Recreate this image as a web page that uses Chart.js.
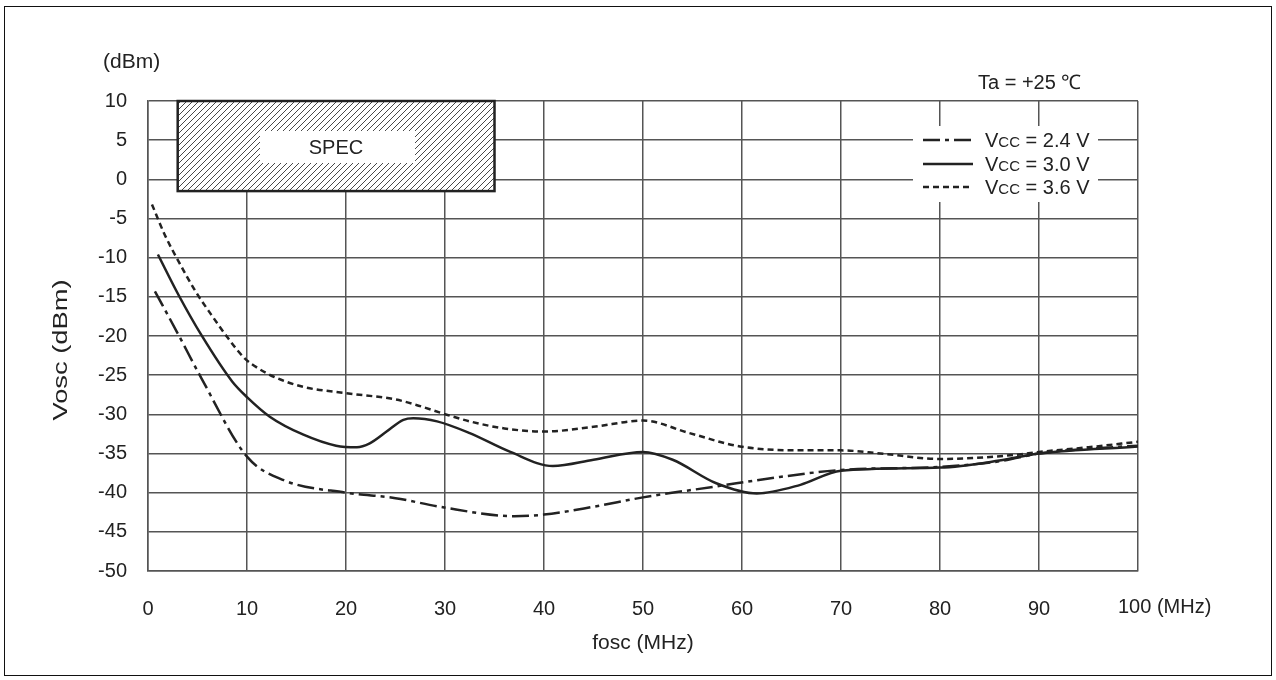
<!DOCTYPE html>
<html>
<head>
<meta charset="utf-8">
<script src="https://cdn.jsdelivr.net/npm/chart.js@4"></script>
<style>
html,body{margin:0;padding:0;background:#fff;}
#wrap{position:relative;width:1276px;height:680px;}
#frame{position:absolute;left:4px;top:6px;width:1266px;height:668px;border:1px solid #111;pointer-events:none;}
canvas{position:absolute;left:0;top:0;}
</style>
</head>
<body>
<div id="wrap">
<canvas id="osc" width="1276" height="680"></canvas>
<div id="frame"></div>
</div>
<script>

/* DATA */

const xTicks=[0,10,20,30,40,50,60,70,80,90,100];
const yTicks=[10,5,0,-5,-10,-15,-20,-25,-30,-35,-40,-45,-50];

const vccLabels=["2.4","3.0","3.6"];

const freq24=[0.7,3.1,5.4,10,13.7,20,25,29.5,37,40,45,50,57.4,63.8,70,80,86,90,95,100];
const vosc24=[-14.3,-19.9,-25.4,-35.4,-38.4,-40.0,-40.7,-41.8,-43.0,-42.8,-41.8,-40.6,-39.2,-38.0,-37.1,-36.7,-36.0,-35.0,-34.4,-34.0];

const freq30=[1,3.1,5.4,8.5,10,12.3,15.7,19,21.1,22.4,24.1,25.8,26.8,29.2,32.5,36.6,40.9,45,50,53,57.4,61.5,65.9,70,80,86,90,100];
const vosc30=[-9.6,-14.8,-19.9,-25.8,-27.8,-30.3,-32.6,-34.0,-34.2,-33.7,-32.2,-30.7,-30.5,-30.9,-32.4,-34.8,-36.6,-35.8,-34.8,-35.8,-38.8,-40.1,-39.0,-37.2,-36.8,-35.9,-35.0,-34.1];

const freq36=[0.4,1.7,3.1,4.8,6.4,8.1,9.8,11.1,12.7,15.7,20,25,27.1,29.8,32.5,36,40,45,50,54.7,59.8,65.9,70,74,80,87.4,90,95,100];
const vosc36=[-3.2,-7.1,-10.5,-14.3,-17.3,-20.3,-22.9,-24.1,-25.2,-26.5,-27.3,-28.1,-28.8,-29.9,-30.9,-31.8,-32.2,-31.6,-30.8,-32.4,-34.1,-34.6,-34.6,-35.0,-35.7,-35.2,-34.8,-34.2,-33.5];

const specFreq=[3,35];
const specLevel=[-1.5,10];


/* HELPERS */

const FONT="'Liberation Sans', Arial, sans-serif";
const INK="#222";
const GRID="#555";

const pts=(xs,ys)=>xs.map((x,i)=>({x:x,y:ys[i]}));

const hatch=(()=>{
const c=document.createElement("canvas");
c.width=6;c.height=6;
const g=c.getContext("2d");
g.strokeStyle="#333";
g.lineWidth=0.9;
g.beginPath();
g.moveTo(0,6);g.lineTo(6,0);
g.moveTo(-3,3);g.lineTo(3,-3);
g.moveTo(3,9);g.lineTo(9,3);
g.stroke();
return c;
})();


/* EXTRA DRAWING */

const specBox={
id:"specBox",
beforeDatasetsDraw(chart){
const ctx=chart.ctx;
const xs=chart.scales.x,ys=chart.scales.y;
const l=xs.getPixelForValue(specFreq[0]),r=xs.getPixelForValue(specFreq[1]);
const t=ys.getPixelForValue(specLevel[1]),b=ys.getPixelForValue(specLevel[0]);
ctx.save();
ctx.fillStyle="#fff";
ctx.fillRect(l,t,r-l,b-t);
ctx.fillStyle=ctx.createPattern(hatch,"repeat");
ctx.fillRect(l,t,r-l,b-t);
ctx.fillStyle="#fff";
ctx.fillRect(260,131,155,32);
ctx.strokeStyle=INK;
ctx.lineWidth=2.5;
ctx.strokeRect(l,t,r-l,b-t);
ctx.fillStyle=INK;
ctx.font="20px "+FONT;
ctx.textAlign="center";
ctx.textBaseline="middle";
ctx.fillText("SPEC",336,148);
ctx.restore();
}
};

const notes={
id:"notes",
afterDatasetsDraw(chart){
const ctx=chart.ctx;
const xs=chart.scales.x;
ctx.save();

/* legend */
ctx.fillStyle="#fff";
ctx.fillRect(913,126,185,76);
const rows=[140,164,187];
chart.data.datasets.forEach((ds,i)=>{
const y=rows[i];
ctx.strokeStyle=ds.borderColor;
ctx.lineWidth=ds.borderWidth;
ctx.setLineDash(ds.borderDash||[]);
ctx.beginPath();
ctx.moveTo(923,y);ctx.lineTo(973,y);
ctx.stroke();
ctx.setLineDash([]);
ctx.fillStyle=INK;
ctx.textAlign="left";
ctx.textBaseline="alphabetic";
ctx.font="20px "+FONT;
ctx.fillText("V",985,y+7);
let w=ctx.measureText("V").width;
ctx.font="15px "+FONT;
ctx.fillText("CC",985+w,y+7);
w+=ctx.measureText("CC").width;
ctx.font="20px "+FONT;
ctx.fillText(" = "+vccLabels[i]+" V",985+w,y+7);
});

ctx.fillStyle=INK;
ctx.textBaseline="middle";
ctx.textAlign="left";
ctx.font="20px "+FONT;
ctx.fillText("Ta = +25 \u2103",978,83);
ctx.fillText("100 (MHz)",xs.getPixelForValue(100)-20,607);
ctx.font="21px "+FONT;
ctx.fillText("(dBm)",103,62);

/* y axis title, a little stretched along its length as in the original */
ctx.translate(61,350);
ctx.rotate(-Math.PI/2);
ctx.scale(1.3,1);
ctx.textAlign="center";
ctx.font="21px "+FONT;
ctx.fillText("Vosc (dBm)",0,0);
ctx.restore();
}
};


/* CHART */

new Chart(document.getElementById("osc"),{

type:"line",

data:{
datasets:[
{
label:"Vcc = 2.4 V",
data:pts(freq24,vosc24),
borderColor:INK,
borderWidth:2.5,
borderDash:[17,5,4,5],
pointRadius:0,
cubicInterpolationMode:"monotone"
},
{
label:"Vcc = 3.0 V",
data:pts(freq30,vosc30),
borderColor:INK,
borderWidth:2.5,
pointRadius:0,
cubicInterpolationMode:"monotone"
},
{
label:"Vcc = 3.6 V",
data:pts(freq36,vosc36),
borderColor:INK,
borderWidth:2.5,
borderDash:[6,4],
pointRadius:0,
cubicInterpolationMode:"monotone"
}
]
},

options:{
responsive:false,
animation:false,
layout:{padding:{left:20,top:101,right:138,bottom:20}},
plugins:{legend:{display:false},tooltip:{enabled:false}},
scales:{
x:{
type:"linear",
min:0,max:100,
afterBuildTicks:s=>{s.ticks=xTicks.map(v=>({value:v}));},
afterFit:s=>{s.height=89;},
grid:{color:GRID,lineWidth:1.5,drawTicks:false},
border:{color:GRID,width:1.5},
ticks:{
color:INK,
font:{family:FONT,size:20},
padding:26,
maxRotation:0,
callback:v=>v===100?"":v
},
title:{display:true,text:"fosc (MHz)",color:INK,font:{family:FONT,size:21}}
},
y:{
type:"linear",
min:-50,max:10,
afterBuildTicks:s=>{s.ticks=yTicks.map(v=>({value:v}));},
afterFit:s=>{s.width=128;},
grid:{color:GRID,lineWidth:1.5,drawTicks:false},
border:{color:GRID,width:1.5},
ticks:{
color:INK,
font:{family:FONT,size:20},
padding:21
}
}
}
},

plugins:[specBox,notes]

});

</script>
</body>
</html>
